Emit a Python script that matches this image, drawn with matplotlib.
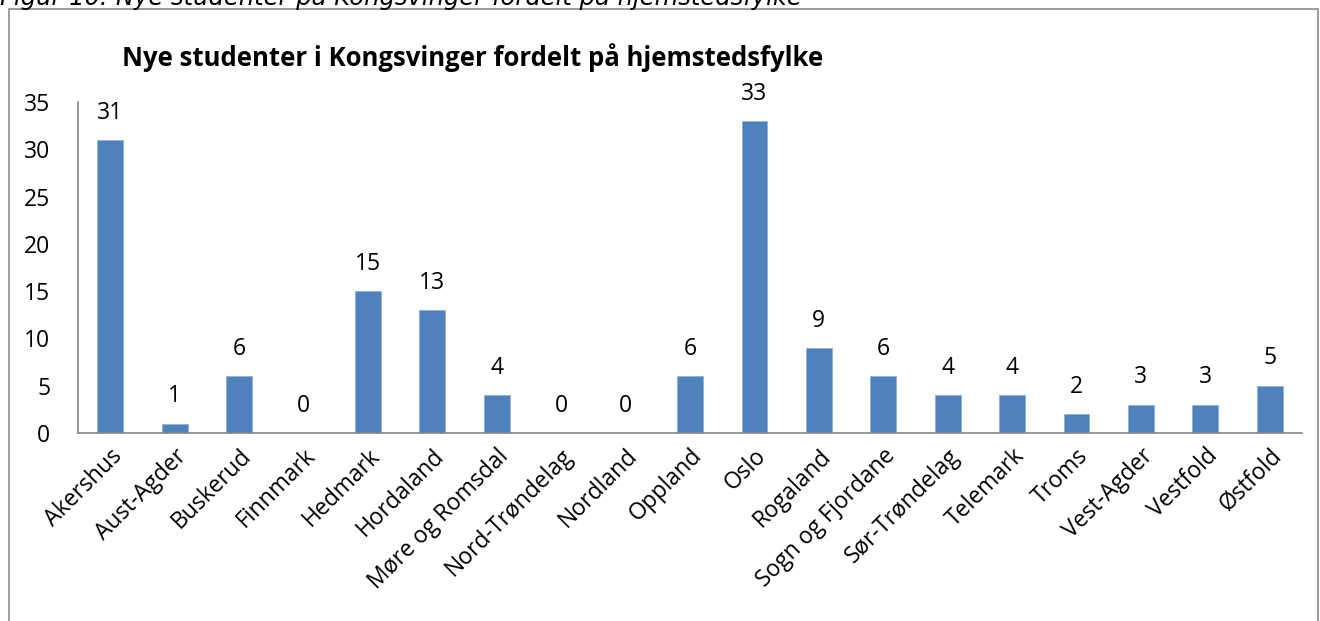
import matplotlib.pyplot as plt
from matplotlib.patches import Rectangle

plt.rcParams['font.family'] = ['Open Sans', 'DejaVu Sans']

fylker = ["Akershus", "Aust-Agder", "Buskerud", "Finnmark", "Hedmark", "Hordaland",
          "Møre og Romsdal", "Nord-Trøndelag", "Nordland", "Oppland", "Oslo",
          "Rogaland", "Sogn og Fjordane", "Sør-Trøndelag", "Telemark", "Troms",
          "Vest-Agder", "Vestfold", "Østfold"]
studenter = [31, 1, 6, 0, 15, 13, 4, 0, 0, 6, 33, 9, 6, 4, 4, 2, 3, 3, 5]
yticks = [0, 5, 10, 15, 20, 25, 30, 35]

title = "Nye studenter i Kongsvinger fordelt på hjemstedsfylke"
caption = "Figur 10: Nye studenter på Kongsvinger fordelt på hjemstedsfylke"

W, H = 1320, 621
fig = plt.figure(figsize=(W / 100, H / 100), dpi=100)
ax = fig.add_axes([78 / W, 1 - 433 / H, (1302 - 78) / W, (433 - 102) / H])

# outer chart frame
fig.patches.append(Rectangle((9 / W, -0.05), (1318 - 9) / W, 1 - 9 / H + 0.05,
                             transform=fig.transFigure, fill=False,
                             edgecolor="#8c8c8c", linewidth=1.2))

x = range(len(fylker))
bars = ax.bar(x, studenter, width=0.4, color="#4f81bd", edgecolor="#8fb0d8",
              linewidth=0.6)
for b, v in zip(bars, studenter):
    ax.annotate(str(v), (b.get_x() + b.get_width() / 2, v), xytext=(0, 11),
                textcoords="offset points", ha="center", va="bottom", fontsize=16.5)

ax.set_xlim(-0.5, len(fylker) - 0.5)
ax.set_ylim(0, 35)
ax.set_yticks(yticks)
ax.set_xticks(list(x))
ax.set_xticklabels(fylker, rotation=45, ha="right", rotation_mode="anchor",
                   fontsize=16.5)
ax.tick_params(axis="both", length=0, labelsize=16.5)
ax.tick_params(axis="y", pad=20)
ax.tick_params(axis="x", pad=8)
for s in ["top", "right"]:
    ax.spines[s].set_visible(False)
for s in ["left", "bottom"]:
    ax.spines[s].set_color("#868686")
    ax.spines[s].set_linewidth(1.2)

fig.text(473 / W, 1 - 58 / H, title, ha="center", va="center",
         fontsize=18.5, fontweight="bold")
fig.text(0, 1 - 5 / H, caption, family="DejaVu Sans", ha="left", va="baseline",
         fontsize=17.5, style="italic")

fig.savefig("out.png", dpi=100)
